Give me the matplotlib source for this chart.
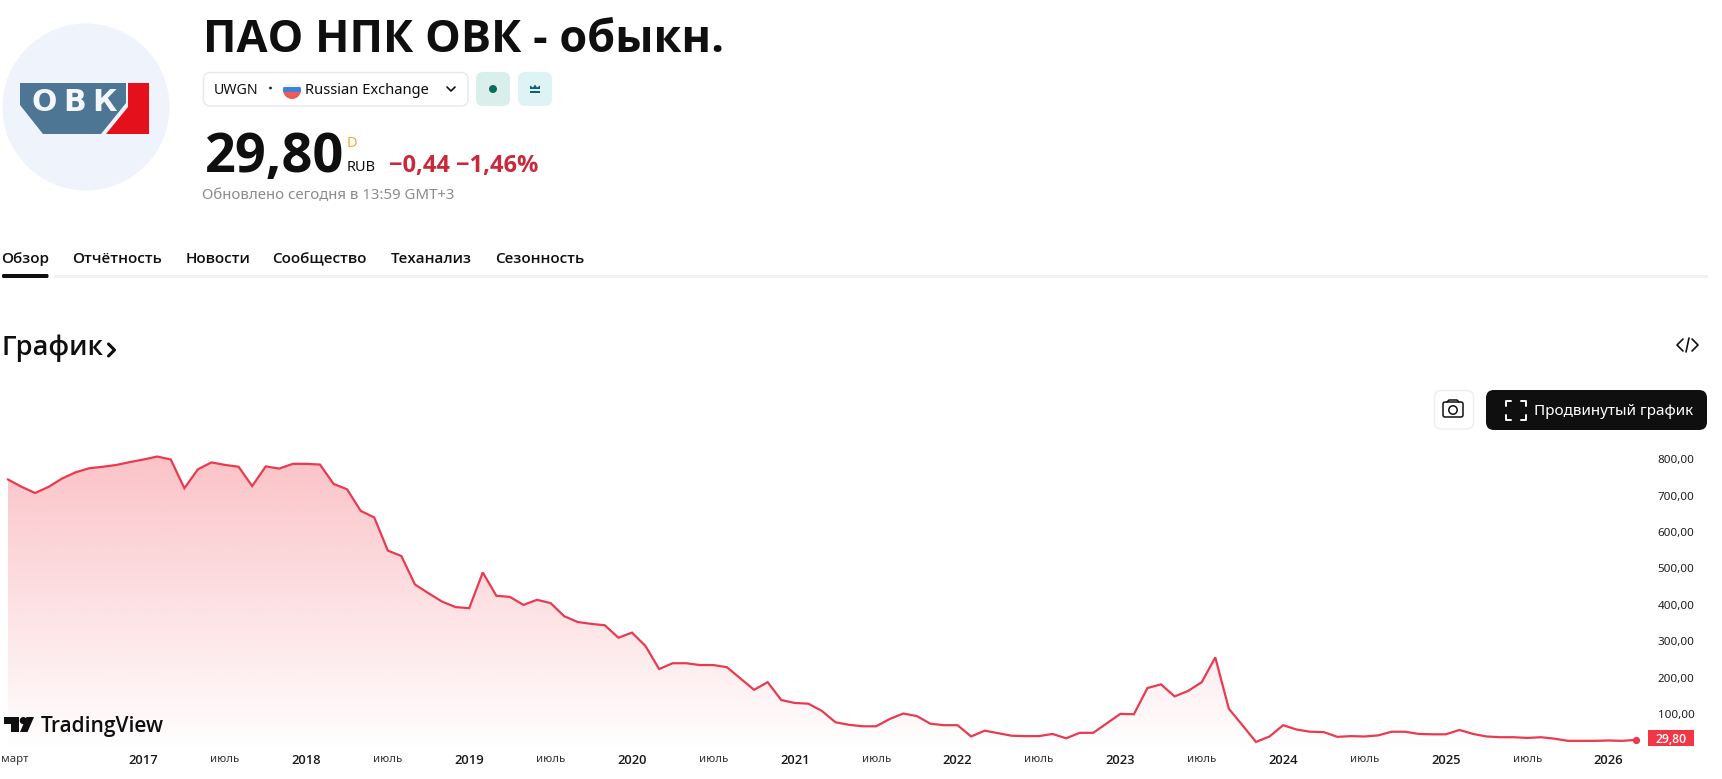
import numpy as np
import matplotlib
matplotlib.use("Agg")
import matplotlib.pyplot as plt
from matplotlib.patches import Circle, Polygon, FancyBboxPatch, Rectangle
from matplotlib.transforms import ScaledTranslation

plt.rcParams['font.family'] = ['Noto Sans', 'DejaVu Sans']
BOLD = ['Open Sans', 'DejaVu Sans']

# ---- data -------------------------------------------------------------
prices = [744, 724, 707, 724, 747, 764, 775, 779, 784, 792, 799, 807, 799, 720, 772, 791, 784, 779, 726, 780,
          774, 787, 787, 785, 732, 717, 658, 640, 549, 534, 456, 432, 409, 394, 391, 489, 425, 422, 400, 414,
          405, 369, 353, 348, 344, 310, 324, 287, 224, 240, 240, 235, 235, 229, 198, 167, 188, 139, 131, 129,
          109, 78, 71, 67, 67, 87, 102, 95, 74, 70, 70, 39, 55, 48, 41, 40, 40, 46, 34, 49,
          49, 75, 101, 100, 172, 182, 149, 164, 188, 256, 115, 70, 24, 39, 70, 58, 52, 51, 38, 40,
          39, 42, 52, 52, 46, 45, 45, 57, 46, 39, 37, 37, 35, 37, 33, 27, 27, 27, 28, 27, 29.8]
x_tick_months = [0, 10, 16, 22, 28, 34, 40, 46, 52, 58, 64, 70, 76, 82, 88, 94, 100, 106, 112, 118]
x_tick_labels = ['март', '2017', 'июль', '2018', 'июль', '2019', 'июль', '2020', 'июль', '2021', 'июль',
                 '2022', 'июль', '2023', 'июль', '2024', 'июль', '2025', 'июль', '2026']
y_tick_values = [100, 200, 300, 400, 500, 600, 700, 800]
y_tick_labels = ['100,00', '200,00', '300,00', '400,00', '500,00', '600,00', '700,00', '800,00']
tabs = ['Обзор', 'Отчётность', 'Новости', 'Сообщество', 'Теханализ', 'Сезонность']
tab_x = [2, 73, 186, 273, 391, 496]

W, H = 1722, 779
RED = '#ea3a50'
fig = plt.figure(figsize=(W / 100, H / 100), dpi=100, facecolor='white')

# ---- chart -------------------------------------------------------------
L, R, T, B = 8, 1650, 440, 752
ax = fig.add_axes([L / W, 1 - B / H, (R - L) / W, (B - T) / H], facecolor='none')
px_month = 13.565
px_unit = 0.3645
xr = (R - L) / px_month
y0 = -(B - 750.7) / px_unit
y1 = (750.7 - T) / px_unit
months = np.arange(len(prices))
poly = ax.fill_between(months, prices, y0, color='none', lw=0)
grad = np.zeros((256, 1, 4))
grad[..., :3] = matplotlib.colors.to_rgb('#f23645')
grad[..., 3] = np.linspace(0.30, 0.0, 256)[:, None]
img = ax.imshow(grad, extent=(0, 120, y0, max(prices)), aspect='auto', origin='upper', zorder=1)
img.set_clip_path(poly.get_paths()[0], ax.transData)
ax.plot(months, prices, color=RED, lw=1.6, solid_joinstyle='miter', zorder=3, clip_on=False)
ax.plot(months[-1:], prices[-1:], 'o', color=RED, ms=5.2, mew=0, zorder=4, clip_on=False)
ax.set_xlim(0, xr)
ax.set_ylim(y0, y1)
for s in ax.spines.values():
    s.set_visible(False)
ax.yaxis.tick_right()
ax.set_yticks(y_tick_values, y_tick_labels, fontsize=8.4, color='#1f1f1f')
ax.tick_params(axis='y', length=0, pad=5.5)
ax.set_xticks(x_tick_months, x_tick_labels, fontsize=8.6)
ax.tick_params(axis='x', length=0, pad=1.4)
for t, lab in zip(ax.get_xticklabels(), x_tick_labels):
    if lab.isdigit():
        t.set_family(BOLD); t.set_fontweight('semibold'); t.set_fontsize(9.4); t.set_color('#1a1a1a')
    else:
        t.set_color('#333333'); t.set_fontsize(8.2)
    if lab == 'март':
        t.set_transform(t.get_transform() + ScaledTranslation(7 / 100, 0, fig.dpi_scale_trans))

# ---- page furniture (pixel coordinates) ---------------------------------
pg = fig.add_axes([0, 0, 1, 1], facecolor='none', zorder=5)
pg.set_xlim(0, W); pg.set_ylim(H, 0); pg.axis('off')

def box(x0, y0_, x1, y1_, fc, ec='none', r=7, lw=1.0):
    pg.add_patch(FancyBboxPatch((x0 + r, y0_ + r), x1 - x0 - 2 * r, y1_ - y0_ - 2 * r,
                                boxstyle=f'round,pad={r},rounding_size={r}', fc=fc, ec=ec, lw=lw))

def txt(x, y, s, size, color='#0f0f0f', weight='normal', ha='left', va='center_baseline', family=None):
    fam = family or (BOLD if weight != 'normal' else None)
    kw = {'family': fam} if fam else {}
    return pg.text(x, y, s, fontsize=size, color=color, fontweight=weight, ha=ha, va=va, **kw)

def line(xs, ys, color='#0f0f0f', lw=1.2, **kw):
    pg.plot(xs, ys, color=color, lw=lw, solid_capstyle='round', **kw)

# logo
pg.add_patch(Circle((86, 107), 83.5, fc='#eff3fb', ec='none'))
pg.add_patch(Polygon([(20, 83), (126, 83), (126, 103), (101, 134), (43, 134), (20, 105)], fc='#4d7594', ec='none'))
pg.add_patch(Polygon([(128, 83), (149, 83), (149, 134), (106, 134), (128, 107)], fc='#e4101c', ec='none'))
for lx, ch in zip([44, 75, 104], 'ОВК'):
    txt(lx, 99, ch, 21.5, color='#f3f6fa', weight='bold', ha='center', family='DejaVu Sans')

# title
txt(203, 35, 'ПАО НПК ОВК - обыкн.', 32.4, weight='bold')

# symbol selector
box(203.5, 72.5, 468, 106, 'white', ec='#e6e8ee')
txt(214, 88, 'UWGN', 10.2)
pg.add_patch(Circle((270.5, 88), 1.4, fc='#222222', ec='none'))
flag = [('#f4f4f4', 84, 87), ('#3b82d6', 87, 91.5), ('#ee5a55', 91.5, 100)]
clip = Circle((292, 90), 9, transform=pg.transData)
for c, a, b in flag:
    rct = Rectangle((283, a), 18, b - a, fc=c, ec='none')
    pg.add_patch(rct); rct.set_clip_path(clip)
txt(305, 88, 'Russian Exchange', 10.6)
line([447, 451, 455], [87, 91, 87], lw=1.2)
box(476, 72, 510, 106, '#daefec')
pg.add_patch(Circle((493, 89), 4, fc='#0b6b5c', ec='none'))
box(518, 72, 552, 106, '#dff3f5')
pg.add_patch(Polygon([(530, 89), (530, 85.5), (533, 87.5), (535, 84.5), (537, 87.5), (540, 85.5), (540, 89)], fc='#0a6373', ec='none'))
pg.add_patch(Rectangle((530, 90.5), 10, 2, fc='#0a6373', ec='none'))

# price
txt(204.5, 151, '29,80', 39, weight='bold')
txt(347, 141, 'D', 10.5, color='#f7a83a')
txt(347, 165, 'RUB', 10.5)
txt(389, 162.5, '−0,44 −1,46%', 17, color='#c9293a', weight='bold')
txt(202, 194, 'Обновлено сегодня в 13:59 GMT+3', 10.8, color='#8c8c8c')

# tabs
for x, s in zip(tab_x, tabs):
    txt(x - 0.5, 257.5, s, 11, weight='semibold')
pg.add_patch(Rectangle((54, 274.5), 1654, 3.5, fc='#f0f3f6', ec='none'))
box(2, 274, 48.5, 278, '#0f0f0f', r=1.5)

# section heading
txt(2, 344, 'График', 19.5, weight='semibold')
line([108.5, 114.5, 108.5], [344, 350, 356], lw=2.2)
line([1683, 1677, 1683], [339, 345, 351], lw=1.2)
line([1692, 1698, 1692], [339, 345, 351], lw=1.2)
line([1689, 1686], [338, 352], lw=1.2)

# toolbar
box(1434.5, 390.5, 1473.5, 429, 'white', ec='#eceef2')
box(1443, 402, 1463, 417, 'white', ec='#111111', r=2, lw=1.1)
line([1447, 1449, 1457, 1459], [402, 400, 400, 402], lw=1.1)
pg.add_patch(Circle((1453, 410), 4.2, fc='white', ec='#111111', lw=1.1))
box(1486, 390, 1707, 430, '#0f0f0f', r=8)
for sx, sy in [(-1, -1), (1, -1), (-1, 1), (1, 1)]:
    cx, cy = 1516 + sx * 10, 410 + sy * 9.5
    line([cx, cx, cx - sx * 5], [cy - sy * 5, cy, cy], color='white', lw=1.4)
txt(1534, 409, 'Продвинутый график', 11, color='white')

# price tag
pg.add_patch(Rectangle((1648, 730), 46, 16, fc='#f23645', ec='none'))
txt(1671, 738, '29,80', 8.8, color='white', weight='semibold', ha='center')

# TradingView logo
pg.add_patch(Polygon([(4, 717), (19, 717), (19, 732), (11, 732), (11, 724), (4, 724)], fc='#0f0f0f', ec='none'))
pg.add_patch(Circle((23.3, 720.6), 3.6, fc='#0f0f0f', ec='none'))
pg.add_patch(Polygon([(26.5, 717), (34, 717), (27.5, 732), (20, 732)], fc='#0f0f0f', ec='none'))
txt(41, 724, 'TradingView', 15, weight='semibold')

fig.savefig('out.png', dpi=100, facecolor='white')
